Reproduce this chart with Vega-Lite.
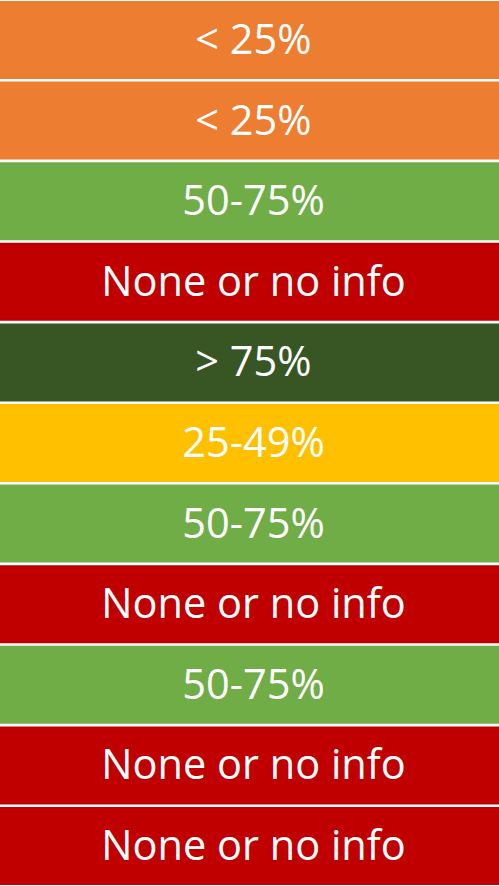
{
  "$schema": "https://vega.github.io/schema/vega-lite/v6.json",
  "autosize": {"type": "fit", "contains": "padding"},
  "width": 499,
  "height": 886,
  "padding": 0,
  "background": "#ffffff",
  "config": {"view": {"stroke": null}},
  "data": {"values": [
    {"row": 1, "label": "< 25%", "level": "<25"},
    {"row": 2, "label": "< 25%", "level": "<25"},
    {"row": 3, "label": "50-75%", "level": "50-75"},
    {"row": 4, "label": "None or no info", "level": "none"},
    {"row": 5, "label": "> 75%", "level": ">75"},
    {"row": 6, "label": "25-49%", "level": "25-49"},
    {"row": 7, "label": "50-75%", "level": "50-75"},
    {"row": 8, "label": "None or no info", "level": "none"},
    {"row": 9, "label": "50-75%", "level": "50-75"},
    {"row": 10, "label": "None or no info", "level": "none"},
    {"row": 11, "label": "None or no info", "level": "none"}
  ]},
  "encoding": {
    "y": {"field": "row", "type": "ordinal", "axis": null,
          "scale": {"paddingInner": 0.032, "paddingOuter": 0}}
  },
  "layer": [
    {
      "mark": {"type": "bar"},
      "encoding": {
        "color": {"field": "level", "type": "nominal", "legend": null,
          "scale": {"domain": ["<25", "25-49", "50-75", ">75", "none"],
                    "range": ["#ED7D31", "#FFC000", "#70AD47", "#375623", "#C00000"]}}
      }
    },
    {
      "mark": {"type": "text", "color": "#ffffff", "font": "Open Sans", "fontSize": 41.5, "baseline": "middle", "align": "center", "dx": 4, "dy": 2},
      "encoding": {"text": {"field": "label"}}
    }
  ]
}
